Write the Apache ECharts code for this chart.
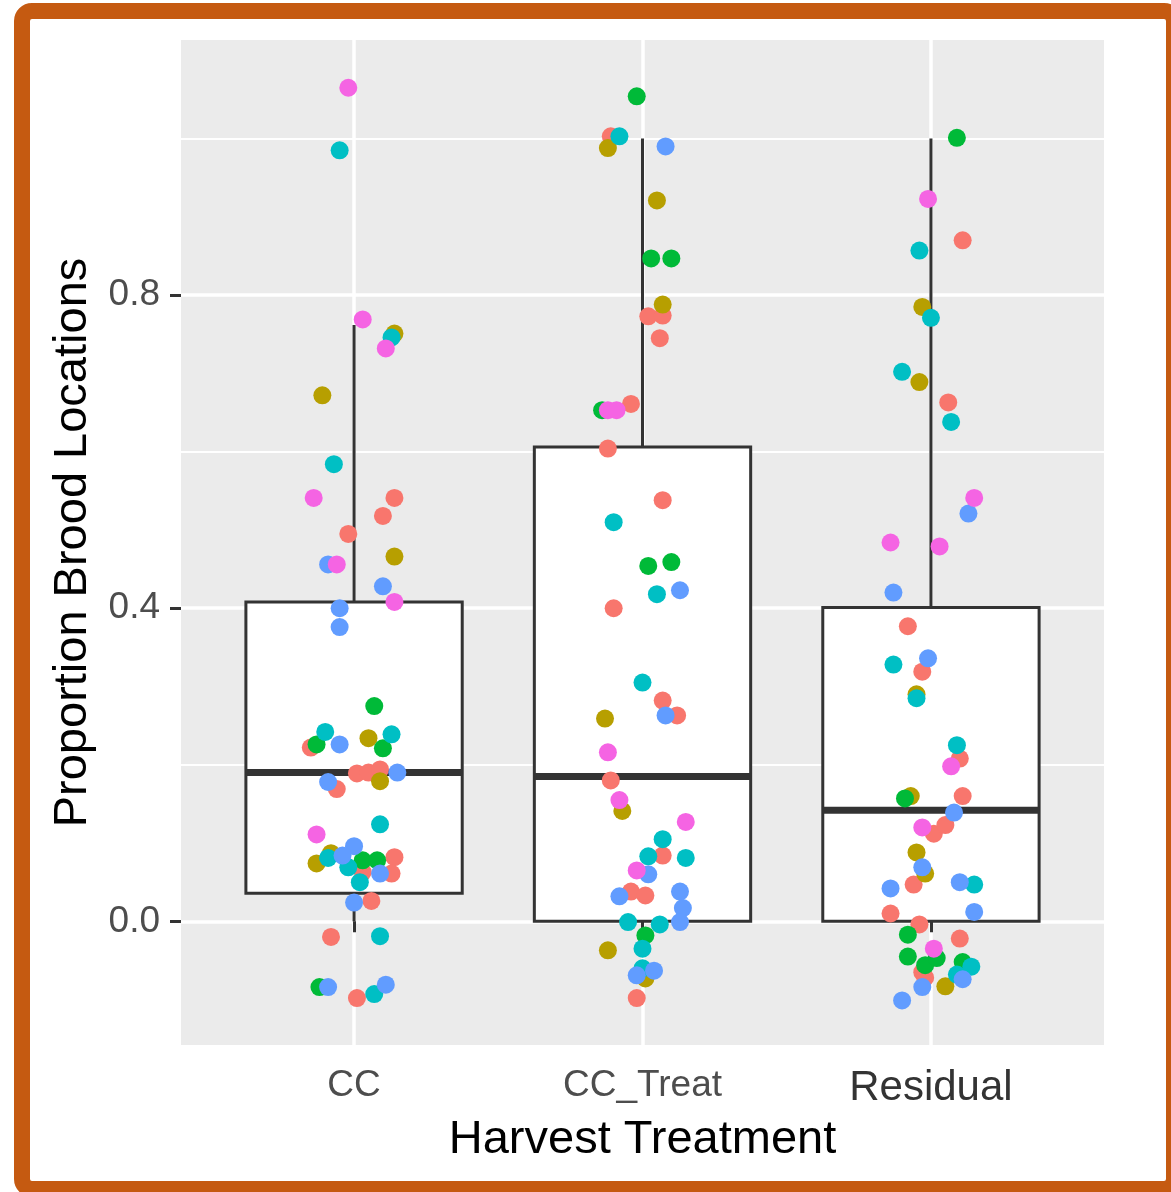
<!DOCTYPE html>
<html>
<head>
<meta charset="utf-8">
<script src="https://cdn.jsdelivr.net/npm/echarts@6/dist/echarts.min.js"></script>
<style>
html,body{margin:0;padding:0;background:#fff;}
#chart{width:1171px;height:1192px;}
</style>
</head>
<body>
<div id="chart"></div>
<script>
// Categories and axis ticks
const categories = ['CC', 'CC_Treat', 'Residual'];
const yTicks = [0, 0.4, 0.8];
const yMinorTicks = [0.2, 0.6, 1.0];

// Box statistics per category (x position, min, Q1, median, Q3, max)
const boxX      = [1, 2, 3];
const boxMin    = [0.000, 0.000, 0.000];
const boxQ1     = [0.036, 0.000, 0.000];
const boxMedian = [0.190, 0.185, 0.142];
const boxQ3     = [0.408, 0.606, 0.401];
const boxMax    = [0.762, 1.000, 1.000];

// Jittered points: [jittered x, value], one array per colour group
const groupSalmon = [
  [1.14,0.541],[1.10,0.518],[0.98,0.495],[0.85,0.222],[1.01,0.189],[1.05,0.190],[1.09,0.194],[0.94,0.169],
  [1.14,0.082],[1.13,0.061],[1.03,0.063],[1.06,0.026],[0.92,-0.020],[1.01,-0.098],
  [1.89,1.003],[2.02,0.773],[2.07,0.774],[2.06,0.745],[1.96,0.661],[1.88,0.604],[2.07,0.538],[1.90,0.400],
  [2.07,0.282],[2.12,0.263],[1.89,0.180],[2.07,0.084],[1.96,0.038],[2.01,0.033],[1.98,-0.098],
  [3.11,0.870],[3.06,0.663],[2.92,0.377],[2.97,0.319],[3.10,0.208],[3.11,0.160],[3.01,0.112],[3.05,0.123],
  [2.94,0.047],[2.86,0.010],[2.96,-0.004],[3.10,-0.022],[2.97,-0.065],[2.98,-0.072]
];
const groupOlive = [
  [1.14,0.751],[0.89,0.672],[1.14,0.466],[1.05,0.234],[1.09,0.179],[0.92,0.087],[0.87,0.074],
  [1.88,0.988],[2.05,0.921],[2.07,0.788],[1.87,0.259],[1.93,0.141],[1.88,-0.037],[2.01,-0.073],
  [2.97,0.785],[2.96,0.689],[2.95,0.290],[2.93,0.160],[2.95,0.088],[2.98,0.061],[3.05,-0.083]
];
const groupGreen = [
  [1.07,0.275],[0.87,0.226],[1.10,0.221],[1.03,0.078],[1.08,0.078],[0.88,-0.084],
  [1.98,1.054],[2.03,0.847],[2.10,0.847],[1.86,0.653],[2.02,0.454],[2.10,0.459],[2.01,-0.018],
  [3.09,1.001],[2.91,0.157],[2.92,-0.017],[2.92,-0.045],[2.98,-0.056],[3.02,-0.047],[3.11,-0.052]
];
const groupTeal = [
  [0.95,0.985],[1.13,0.746],[0.93,0.584],[0.90,0.242],[1.13,0.239],[1.09,0.124],[0.91,0.081],[0.98,0.069],
  [1.02,0.050],[1.09,-0.019],[1.07,-0.093],
  [1.92,1.003],[1.90,0.510],[2.05,0.418],[2.00,0.305],[2.07,0.105],[2.02,0.083],[2.15,0.081],[1.95,-0.001],
  [2.06,-0.004],[2.00,-0.035],[2.00,-0.060],
  [2.96,0.857],[3.00,0.771],[2.90,0.702],[3.07,0.638],[2.87,0.328],[2.95,0.285],[3.09,0.225],[3.15,0.047],
  [3.14,-0.058],[3.09,-0.068]
];
const groupBlue = [
  [0.91,0.456],[1.10,0.428],[0.95,0.400],[0.95,0.376],[0.95,0.226],[1.15,0.190],[0.91,0.178],[1.00,0.096],
  [0.96,0.084],[1.09,0.061],[1.00,0.024],[0.91,-0.084],[1.11,-0.081],
  [2.08,0.990],[2.13,0.423],[2.08,0.263],[2.02,0.060],[2.13,0.038],[1.92,0.032],[2.14,0.017],[2.13,-0.001],
  [1.98,-0.069],[2.04,-0.063],
  [3.13,0.521],[2.87,0.420],[2.99,0.336],[3.08,0.139],[2.97,0.069],[2.86,0.042],[3.10,0.050],[3.15,0.012],
  [3.11,-0.074],[2.97,-0.084],[2.90,-0.101]
];
const groupPink = [
  [0.98,1.065],[1.03,0.769],[1.11,0.732],[0.86,0.541],[0.94,0.456],[1.14,0.408],[0.87,0.111],
  [1.88,0.653],[1.91,0.653],[1.88,0.216],[1.92,0.155],[2.15,0.127],[1.98,0.065],
  [2.99,0.923],[3.15,0.541],[2.86,0.484],[3.03,0.479],[3.07,0.198],[2.97,0.120],[3.01,-0.035]
];

const groups = [
  {name: 'g1', color: '#F8766D', data: groupSalmon},
  {name: 'g2', color: '#B79F00', data: groupOlive},
  {name: 'g3', color: '#00BA38', data: groupGreen},
  {name: 'g4', color: '#00BFC4', data: groupTeal},
  {name: 'g5', color: '#619CFF', data: groupBlue},
  {name: 'g6', color: '#F564E3', data: groupPink}
];

const boxData = boxX.map((x, i) => [x, boxMin[i], boxQ1[i], boxMedian[i], boxQ3[i], boxMax[i]]);

const FONT = '"Liberation Sans", Arial, sans-serif';
const chart = echarts.init(document.getElementById('chart'), null, {renderer: 'canvas'});

function renderBox(params, api) {
  const x = api.value(0), lo = api.value(1), q1 = api.value(2), med = api.value(3), q3 = api.value(4), hi = api.value(5);
  const half = 0.375;
  const tl = api.coord([x - half, q3]);
  const br = api.coord([x + half, q1]);
  const top = api.coord([x, hi]);
  const cq3 = api.coord([x, q3]);
  const cq1 = api.coord([x, q1]);
  const bot = api.coord([x, lo]);
  const mL = api.coord([x - half, med]);
  const mR = api.coord([x + half, med]);
  const ink = '#333333';
  return {
    type: 'group',
    children: [
      {type: 'line', shape: {x1: top[0], y1: top[1], x2: cq3[0], y2: cq3[1]}, style: {stroke: ink, lineWidth: 3}},
      {type: 'line', shape: {x1: bot[0], y1: bot[1], x2: cq1[0], y2: cq1[1]}, style: {stroke: ink, lineWidth: 3}},
      {type: 'rect', shape: {x: tl[0], y: tl[1], width: br[0] - tl[0], height: br[1] - tl[1]}, style: {fill: '#ffffff', stroke: ink, lineWidth: 3}},
      {type: 'line', shape: {x1: mL[0], y1: mL[1], x2: mR[0], y2: mR[1]}, style: {stroke: ink, lineWidth: 7}}
    ]
  };
}

const option = {
  backgroundColor: '#ffffff',
  animation: false,
  graphic: [{
    type: 'rect',
    shape: {x: 22, y: 11, width: 1152, height: 1178, r: 10},
    style: {fill: 'none', stroke: '#C55A11', lineWidth: 16},
    z: 100
  }],
  grid: {
    left: 181, right: 67, top: 40, bottom: 147,
    show: true, backgroundColor: '#EBEBEB', borderWidth: 0
  },
  xAxis: {
    type: 'value', min: 0.4, max: 3.6,
    name: 'Harvest Treatment', nameLocation: 'middle', nameGap: 72,
    nameTextStyle: {fontSize: 47, color: '#000000', fontFamily: FONT},
    axisLine: {show: false},
    axisTick: {show: true, length: 11, customValues: [1, 2, 3], lineStyle: {color: '#333333', width: 3}},
    axisLabel: {
      customValues: [1, 2, 3], margin: 22, fontSize: 37, color: '#4D4D4D', fontFamily: FONT,
      formatter: v => {
        const i = Math.round(v) - 1;
        return i === 2 ? '{big|' + categories[i] + '}' : categories[i];
      },
      rich: {big: {fontSize: 42, color: '#333333', fontFamily: FONT}}
    },
    splitLine: {show: true, lineStyle: {color: '#ffffff', width: 3.5}}
  },
  yAxis: [{
    type: 'value', min: -0.158, max: 1.126,
    name: 'Proportion Brood Locations', nameLocation: 'middle', nameGap: 84,
    nameTextStyle: {fontSize: 47, color: '#000000', fontFamily: FONT},
    axisLine: {show: false},
    axisTick: {show: true, length: 11, customValues: yTicks, lineStyle: {color: '#333333', width: 3}},
    axisLabel: {customValues: yTicks, margin: 21, fontSize: 37, color: '#4D4D4D', fontFamily: FONT,
      formatter: v => v.toFixed(1)},
    splitLine: {show: true, lineStyle: {color: '#ffffff', width: 3.5}}
  }, {
    type: 'value', min: -0.158, max: 1.126, position: 'left',
    axisLine: {show: false},
    axisTick: {show: false, customValues: yMinorTicks},
    axisLabel: {show: false, customValues: yMinorTicks},
    splitLine: {show: true, lineStyle: {color: '#ffffff', width: 1.8}}
  }],
  series: [{
    type: 'custom',
    renderItem: renderBox,
    data: boxData,
    encode: {x: 0, y: [1, 2, 3, 4, 5]},
    z: 2,
    silent: true
  }].concat(groups.map(g => ({
    type: 'scatter',
    name: g.name,
    data: g.data,
    symbol: 'circle',
    symbolSize: 18,
    itemStyle: {color: g.color, opacity: 1},
    z: 3,
    silent: true
  })))
};
chart.setOption(option);
</script>
</body>
</html>
